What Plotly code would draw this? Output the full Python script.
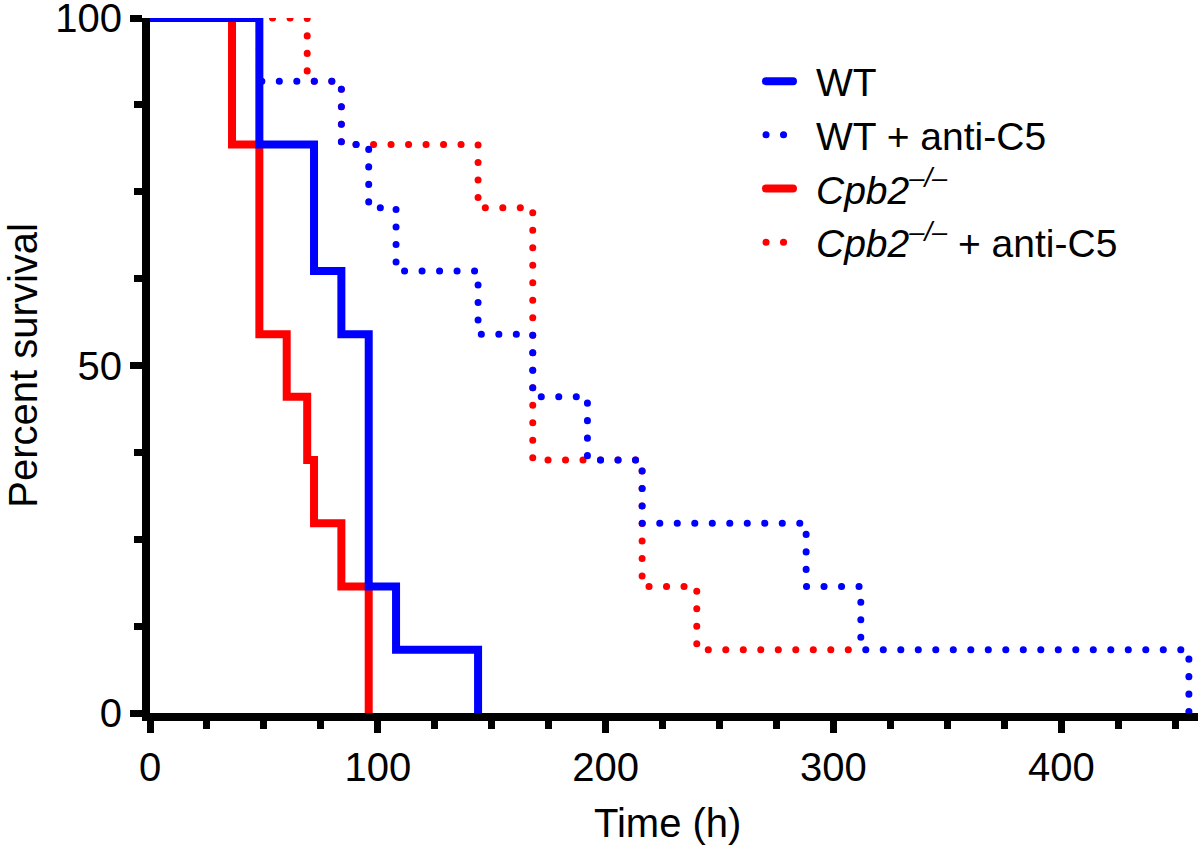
import plotly.graph_objects as go

# Kaplan-Meier step data (time in h, percent survival)
wt_t = [0, 48, 72, 84, 96, 108, 144]
wt_s = [100, 81.8, 63.6, 54.5, 18.2, 9.1, 0]

wt_c5_t = [0, 48, 84, 96, 108, 144, 168, 192, 216, 288, 312, 456]
wt_c5_s = [100, 90.9, 81.8, 72.7, 63.6, 54.5, 45.5, 36.4, 27.3, 18.2, 9.1, 0]

cpb2_t = [0, 36, 48, 60, 69, 72, 84, 96]
cpb2_s = [100, 81.8, 54.5, 45.5, 36.4, 27.3, 18.2, 0]

cpb2_c5_t = [0, 69, 84, 144, 168, 216, 240, 310]
cpb2_c5_s = [100, 90.9, 81.8, 72.7, 36.4, 18.2, 9.1, 9.1]

names = ["WT", "WT + anti-C5", "<i>Cpb2<sup>–/–</sup></i>", "<i>Cpb2<sup>–/–</sup></i> + anti-C5"]

x_ticks = [0, 100, 200, 300, 400]
y_ticks = [0, 50, 100]

BLUE = "#0000FF"
RED = "#FF0000"
FONT = "Liberation Sans, Arial, Helvetica, sans-serif"
DOT = "0.1px,17.4px"

fig = go.Figure()
# draw reds first (underneath), legend order via legendrank
fig.add_trace(go.Scatter(x=cpb2_t, y=cpb2_s, mode="lines", line_shape="hv", name=names[2],
                         line=dict(color=RED, width=8), legendrank=3))
fig.add_trace(go.Scatter(x=cpb2_c5_t, y=cpb2_c5_s, mode="lines", line_shape="hv", name=names[3],
                         line=dict(color=RED, width=7, dash=DOT), legendrank=4))
fig.add_trace(go.Scatter(x=wt_t, y=wt_s, mode="lines", line_shape="hv", name=names[0],
                         line=dict(color=BLUE, width=8), legendrank=1))
fig.add_trace(go.Scatter(x=wt_c5_t, y=wt_c5_s, mode="lines", line_shape="hv", name=names[1],
                         line=dict(color=BLUE, width=7, dash=DOT), legendrank=2))

axis_common = dict(
    showline=True, linecolor="black", linewidth=8,
    ticks="outside", ticklen=12, tickwidth=7, tickcolor="black",
    showgrid=False, zeroline=False, automargin=False,
    ticklabeloverflow="allow", tickfont=dict(size=40),
)

fig.update_layout(
    width=1200, height=848,
    margin=dict(l=150, r=2, t=18, b=135, autoexpand=False),
    paper_bgcolor="white", plot_bgcolor="white",
    font=dict(family=FONT, size=40, color="black"),
    showlegend=True,
    legend=dict(x=0.583, y=0.955, xanchor="left", yanchor="top",
                bgcolor="rgba(0,0,0,0)", font=dict(size=39), itemwidth=45,
                traceorder="normal"),
    xaxis=dict(range=[0, 460], tickvals=x_ticks,
               minor=dict(dtick=25, tick0=0, ticks="outside", ticklen=8, tickwidth=7, tickcolor="black"),
               **axis_common),
    yaxis=dict(range=[0, 100], tickvals=y_ticks,
               minor=dict(dtick=12.5, tick0=0, ticks="outside", ticklen=8, tickwidth=7, tickcolor="black"),
               **axis_common),
    annotations=[
        dict(text="Time (h)", xref="paper", yref="paper", x=0.494, y=-0.158,
             xanchor="center", yanchor="middle", showarrow=False, font=dict(size=40)),
        dict(text="Percent survival", xref="paper", yref="paper", x=-0.122, y=0.5,
             xanchor="center", yanchor="middle", textangle=-90, showarrow=False, font=dict(size=40)),
    ],
)

post = """
document.body.style.margin = '0';
document.body.style.padding = '0';
var gd = document.getElementById('{plot_id}');
gd.querySelectorAll('path.js-line').forEach(function(p){
  p.style.strokeLinecap = 'round';
});
gd.querySelectorAll('.legendlines path.js-line').forEach(function(p){
  p.setAttribute('d', 'M5,0h27');
});
gd.querySelectorAll('.subplot .plot').forEach(function(g){ g.removeAttribute('clip-path'); });
"""

fig.write_html("out.html", post_script=post, config={"displayModeBar": False})
